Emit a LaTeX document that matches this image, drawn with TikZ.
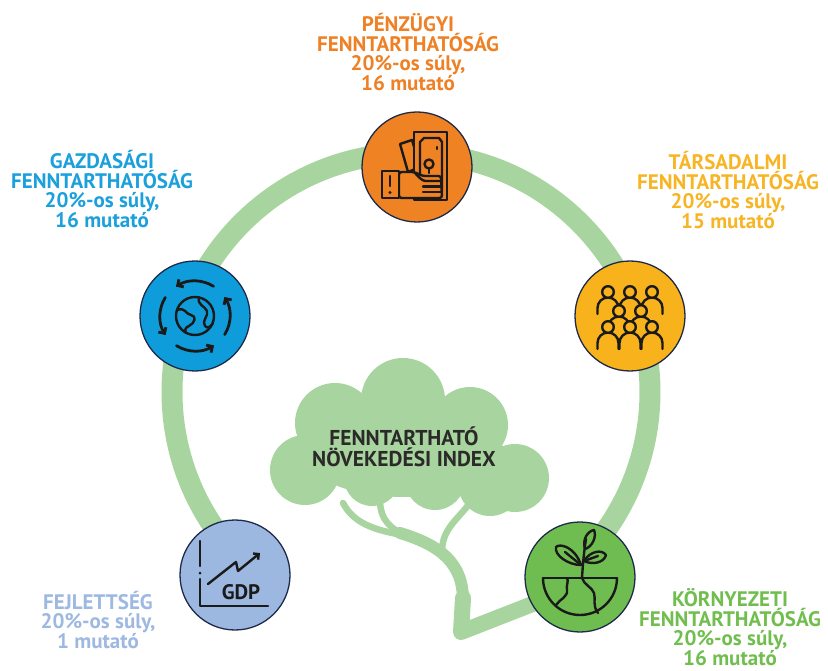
\documentclass[tikz,border=0pt]{standalone}
\usepackage{fontspec}
\setmainfont{PT Sans}
\usepackage{xcolor}
\usepackage{tikz}
\usetikzlibrary{arrows.meta, positioning}

\definecolor{ringgreen}{HTML}{A8D59F}
\definecolor{outline}{HTML}{1E2A4A}
\definecolor{ink}{HTML}{1A1A1A}
\definecolor{indexdark}{HTML}{2B2A29}
\definecolor{penzC}{HTML}{EF8222}
\definecolor{gazdC}{HTML}{0E9DDA}
\definecolor{tarsC}{HTML}{F8B21B}
\definecolor{fejlC}{HTML}{9DB8E0}
\definecolor{kornC}{HTML}{6FBD50}
\definecolor{penzT}{HTML}{EE8125}
\definecolor{gazdT}{HTML}{1CA0DB}
\definecolor{tarsT}{HTML}{F7B525}
\definecolor{fejlT}{HTML}{9DB8E1}
\definecolor{kornT}{HTML}{71BE4F}

\tikzset{
  badge/.style={circle, draw=outline, line width=1.3pt, minimum size=110pt, inner sep=0pt},
  sidetext/.style={align=center, inner sep=0pt,
    font=\fontsize{21}{19.6}\selectfont\bfseries},
  ico/.style={line width=2.4pt, draw=ink, line cap=round, line join=round},
  treeline/.style={draw=ringgreen, line cap=round, line join=round}
}

\begin{document}
\begin{tikzpicture}[x=1pt, y=-1pt, >=latex]
    \useasboundingbox (0,0) rectangle (828,671);

    % 1. Vong tron lon va goc cay
    \coordinate (hub) at (411,392);
    \draw[ringgreen, line width=21pt] ([shift={(135:239)}]hub) arc[start angle=135, end angle=405, radius=239];

    % canh cay
    \draw[treeline, line width=6.5pt] (343,503) .. controls (355,526) and (380,531) .. (408,536);
    \draw[treeline, line width=6.5pt] (380,500) .. controls (380,521) and (392,530) .. (408,536);
    \draw[treeline, line width=6.5pt] (470,503) .. controls (455,522) and (442,530) .. (442,552);
    % than cay va re
    \draw[treeline, line width=12pt] (400,533) .. controls (440,545) and (463,563) .. (463,600);
    \draw[treeline, line width=16pt] (463,598) -- (461,632) -- (548,598);

    % tan cay
    \fill[ringgreen] (305,470) circle[radius=35];
    \fill[ringgreen] (335,423) circle[radius=40];
    \fill[ringgreen] (403,400) circle[radius=42];
    \fill[ringgreen] (470,425) circle[radius=38];
    \fill[ringgreen] (515,478) circle[radius=34];
    \fill[ringgreen] (372,478) circle[radius=28];
    \fill[ringgreen] (435,480) circle[radius=30];
    \fill[ringgreen] (490,484) circle[radius=32];
    \fill[ringgreen] (405,455) ellipse[x radius=100, y radius=42];
    \node[sidetext, text=indexdark, font=\fontsize{21.5}{21.5}\selectfont\bfseries] (idx) at (404,447)
        {FENNTARTHATÓ\\NÖVEKEDÉSI INDEX};

    % 2. Cac vong tron chu de
    \node[badge, fill=penzC] (penz) at (417,167) {};
    \node[badge, fill=gazdC] (gazd) at (195,316) {};
    \node[badge, fill=tarsC] (tars) at (630,316) {};
    \node[badge, fill=fejlC] (fejl) at (235,575) {};
    \node[badge, fill=kornC] (korn) at (580,577) {};

    % 3. Bieu tuong
    % tien trong tay
    \begin{scope}[shift={(penz.center)}, yscale=-1]
        \draw[ico, fill=penzC] (-17,23) -- (-5,27) -- (3,0) -- (-9,-5) -- cycle;
        \draw[ico, fill=penzC] (-3,-33) rectangle (30,35);
        \draw[ico] (3,25) -- (7,29) -- (22,29) -- (25,25) -- (25,-25) -- (22,-28) -- (7,-28) -- (3,-25) -- cycle;
        \draw[ico] (12,3) circle[radius=4.5];
        \draw[ico] (12,-1.5) -- (12,-6);
        \draw[ico] (20,20) -- (20,18);
        \draw[ico, fill=penzC, rounded corners=2.5pt] (-18,-5) -- (-3,-5) -- (6,-9) -- (24,-9) -- (25,-31) -- (-18,-31) -- cycle;
        \draw[ico] (-3,-5) .. controls (2,-10) and (4,-13) .. (8,-14) -- (25,-14);
        \draw[ico] (6,-19.5) -- (25,-19.5);
        \draw[ico] (6,-25) -- (24,-25);
        \draw[ico, fill=penzC] (-35,-31) rectangle (-18,-4);
        \draw[ico] (-27,-9) -- (-27,-19);
        \fill[ink] (-27,-25.5) circle[radius=1.7];
    \end{scope}

    % fold korul nyilak
    \begin{scope}[shift={(gazd.center)}, yscale=-1]
        \draw[ico] (0,0) circle[radius=19];
        \draw[ico] (-18,6) .. controls (-9,9) and (-10,2) .. (-4,1) .. controls (2,0) and (0,-7) .. (-6,-10) .. controls (-9,-11) and (-11,-14) .. (-9,-17);
        \draw[ico] (4,18.5) .. controls (2,11) and (10,10) .. (12,5) .. controls (14,0) and (6,-5) .. (10,-10) .. controls (12,-13) and (16,-11) .. (18,-7);
        \foreach \a in {58,148,238,328}
            \draw[ico, line width=2.8pt, -{Straight Barb[length=4.5pt, width=9pt]}] (\a:35) arc[start angle=\a, end angle=\a+65, radius=35];
    \end{scope}

    % emberek csoportja
    \begin{scope}[shift={(tars.center)}, yscale=-1]
        \foreach \px/\py in {-22/24, 0/24, 22/24, -11/5, 11/5, -22/-11, 0/-11, 22/-11} {
            \draw[ico, fill=tarsC] (\px-10.5,\py-22) -- (\px-10.5,\py-16) arc[start angle=180, end angle=0, radius=10.5] -- (\px+10.5,\py-22);
            \draw[ico, fill=tarsC] (\px,\py) circle[radius=5.8];
        }
    \end{scope}

    % GDP grafikon
    \begin{scope}[shift={(fejl.center)}, yscale=-1]
        \draw[ico] (-35,34) -- (-35,9);
        \fill[ink] (-35,2) circle[radius=1.5];
        \draw[ico] (-35,-4) -- (-35,-31) -- (33,-31);
        \draw[ico, -{Straight Barb[length=4pt, width=8pt]}] (-27,-9) -- (1,13) -- (3,4) -- (25,22);
        \node[text=ink, font=\fontsize{21}{21}\selectfont\bfseries, inner sep=0pt] (gdp) at (6,-17) {GDP};
    \end{scope}

    % noveny a foldgomb felett
    \begin{scope}[shift={(korn.center)}, yscale=-1]
        \draw[ico] (-37,-1) -- (37,-1);
        \draw[ico] (-37,-1) arc[start angle=180, end angle=360, radius=37];
        \draw[ico] (2,-1) .. controls (4,-8) and (12,-10) .. (14,-16) .. controls (16,-22) and (12,-28) .. (18,-36);
        \draw[ico] (-24,-28) .. controls (-20,-22) and (-12,-20) .. (-13,-13) .. controls (-14,-8) and (-11,-4) .. (-13,-1);
        \draw[ico] (2,-1) .. controls (3,15) and (4,25) .. (6,38);
        \draw[ico] (1,12) .. controls (-5,30) and (-20,34) .. (-24,30) .. controls (-26,22) and (-12,12) .. (1,12);
        \draw[ico] (1,12) -- (-15,25);
        \draw[ico] (4,16) .. controls (10,26) and (22,28) .. (26,22) .. controls (24,14) and (12,12) .. (4,16);
        \draw[ico] (4,16) -- (18,21);
        \draw[ico] (5,28) .. controls (2,38) and (8,46) .. (14,47) .. controls (17,40) and (12,30) .. (5,28);
    \end{scope}

    % 4. Feliratok
    \node[sidetext, text=penzT] (penzlbl) at (408,52) {PÉNZÜGYI\\FENNTARTHATÓSÁG\\20\%-os súly,\\16 mutató};
    \node[sidetext, text=gazdT] (gazdlbl) at (102,189) {GAZDASÁGI\\FENNTARTHATÓSÁG\\20\%-os súly,\\16 mutató};
    \node[sidetext, text=tarsT] (tarslbl) at (728,190) {TÁRSADALMI\\FENNTARTHATÓSÁG\\20\%-os súly,\\15 mutató};
    \node[sidetext, text=fejlT] (fejllbl) at (98,620) {FEJLETTSÉG\\20\%-os súly,\\1 mutató};
    \node[sidetext, text=kornT] (kornlbl) at (730,627) {KÖRNYEZETI\\FENNTARTHATÓSÁG\\20\%-os súly,\\16 mutató};

\end{tikzpicture}
\end{document}
